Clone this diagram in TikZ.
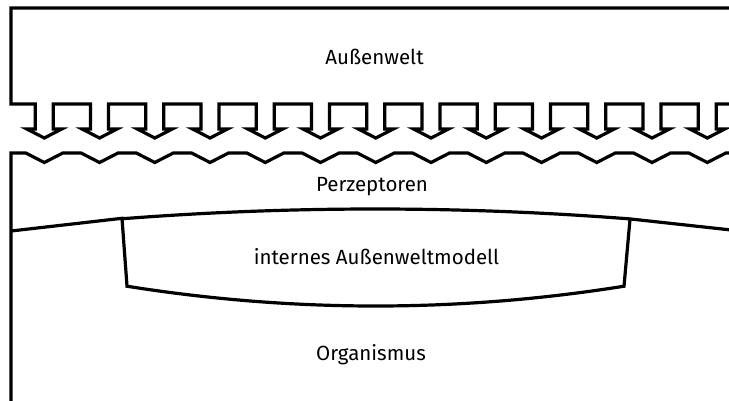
\documentclass[tikz,border=0pt]{standalone}
\usepackage{fontspec}
\setmainfont{Fira Sans}
\begin{document}
\begin{tikzpicture}[x=1pt,y=-1pt,
  outline/.style={draw=black,line width=3.2pt,line join=miter},
  label/.style={font=\fontsize{20.5}{22}\selectfont,inner sep=0pt}]
\useasboundingbox (0,0) rectangle (729,400);
\clip (0,0) rectangle (729,400);
% arrow layout: tips at 44.3 + 55.25 k
\def\ax{44.3}\def\ap{55.25}
% environment box with the row of downward arrows
\draw[outline] (745,8) -- (11,8) -- (11,104)
  \foreach \k [evaluate=\k as \xk using \ax+\ap*\k] in {0,...,12}{
    -- ({\xk-9},104) -- ({\xk-9},129) -- ({\xk-17.5},129) -- (\xk,138)
    -- ({\xk+17.5},129) -- ({\xk+9},129) -- ({\xk+9},104)}
  -- (745,104);
% organism with the notched receptor surface
\draw[outline] (11,410) -- (11,153)
  \foreach \k [evaluate=\k as \xk using \ax+\ap*\k] in {0,...,12}{
    -- ({\xk-18.5},153) -- (\xk,162.5) -- ({\xk+18.5},153)}
  -- (745,153);
% boundary of the perceptor layer
\coordinate (wl) at (11,231);
\coordinate (ml) at (122,218.3);
\coordinate (mr) at (630,219.3);
\draw[outline] (wl) -- (ml)
  -- plot[domain=122:630,samples=80] (\x,{209+0.000145*(\x-375)*(\x-375)})
  -- (745,231.5);
% internal model
\coordinate (bl) at (127,286);
\coordinate (br) at (624,286);
\draw[outline] (ml) -- (bl)
  -- plot[domain=127:624,samples=80] (\x,{306-0.000325*(\x-375.5)*(\x-375.5)})
  -- (mr);
\node[label] (aussen) at (374.5,57) {Außenwelt};
\node[label] (perz) at (372,187) {Perzeptoren};
\node[label] (modell) at (376.5,257) {internes Außenweltmodell};
\node[label] (org) at (371,355) {Organismus};
\end{tikzpicture}
\end{document}
